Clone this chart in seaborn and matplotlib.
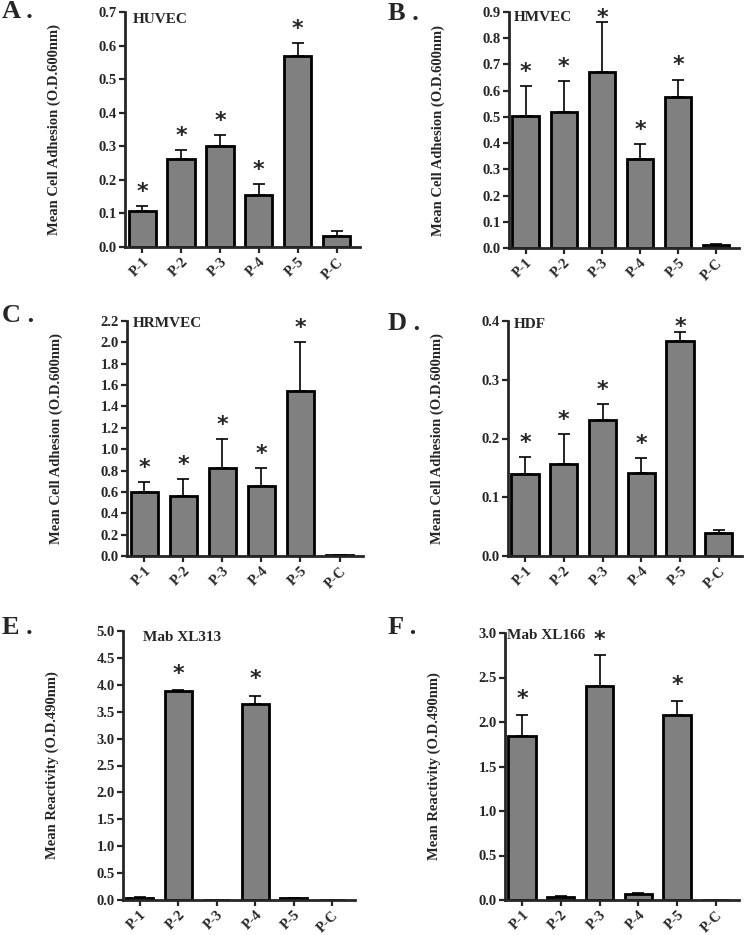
import numpy as np
import pandas as pd
import matplotlib
matplotlib.use('Agg')
import matplotlib.pyplot as plt
import seaborn as sns

sns.set_style('ticks')
plt.rcParams['font.family'] = ['Liberation Serif', 'DejaVu Serif']
plt.rcParams['font.weight'] = 'bold'

peptides = ['P-1', 'P-2', 'P-3', 'P-4', 'P-5', 'P-C']

# mean values and upper error (SD)
huvec_mean = [0.107, 0.262, 0.302, 0.156, 0.568, 0.033]
huvec_err = [0.015, 0.028, 0.031, 0.032, 0.039, 0.014]
hmvec_mean = [0.504, 0.519, 0.673, 0.338, 0.574, 0.010]
hmvec_err = [0.112, 0.119, 0.189, 0.057, 0.068, 0.004]
hrmvec_mean = [0.599, 0.558, 0.824, 0.655, 1.548, 0.005]
hrmvec_err = [0.097, 0.160, 0.268, 0.166, 0.455, 0.0]
hdf_mean = [0.140, 0.156, 0.231, 0.142, 0.366, 0.039]
hdf_err = [0.029, 0.052, 0.028, 0.024, 0.015, 0.006]
xl313_mean = [0.04, 3.88, 0.0, 3.64, 0.03, 0.0]
xl313_err = [0.02, 0.02, 0.0, 0.16, 0.01, 0.0]
xl166_mean = [1.847, 0.037, 2.403, 0.067, 2.082, 0.005]
xl166_err = [0.231, 0.01, 0.351, 0.012, 0.157, 0.0]

huvec_star = [1, 1, 1, 1, 1, 0]
hmvec_star = [1, 1, 1, 1, 1, 0]
hrmvec_star = [1, 1, 1, 1, 1, 0]
hdf_star = [1, 1, 1, 1, 1, 0]
xl313_star = [0, 1, 0, 1, 0, 0]
xl166_star = [1, 0, 1, 0, 1, 0]

adh_label = 'Mean Cell Adhesion (O.D.600nm)'
rea_label = 'Mean Reactivity (O.D.490nm)'

panels = [
    ('A', 'HUVEC', huvec_mean, huvec_err, huvec_star, 0.7, 0.1, adh_label),
    ('B', 'HMVEC', hmvec_mean, hmvec_err, hmvec_star, 0.9, 0.1, adh_label),
    ('C', 'HRMVEC', hrmvec_mean, hrmvec_err, hrmvec_star, 2.2, 0.2, adh_label),
    ('D', 'HDF', hdf_mean, hdf_err, hdf_star, 0.4, 0.1, adh_label),
    ('E', 'Mab XL313', xl313_mean, xl313_err, xl313_star, 5.0, 0.5, rea_label),
    ('F', 'Mab XL166', xl166_mean, xl166_err, xl166_star, 3.0, 0.5, rea_label),
]

# axes boxes in pixels: left, right, top, bottom
boxes = [(125, 360, 12, 247), (509, 739, 12, 248),
         (127, 363, 321, 556), (508, 742, 321, 556),
         (123, 355, 631, 900), (505, 739, 633, 900)]
letter_pos = [(2, 12), (388, 14), (2, 316), (388, 323), (2, 627), (388, 627)]
title_x = [0.033, 0.022, 0.025, 0.026, 0.086, 0.01]
title_y = [0.97, 0.977, 0.99, 0.983, 0.974, 0.99]

W, H = 745, 935
fig = plt.figure(figsize=(W / 100, H / 100), dpi=100)

for k, (let, name, mean, err, star, ymax, step, ylab) in enumerate(panels):
    l, r, t, b = boxes[k]
    ax = fig.add_axes([l / W, 1 - b / H, (r - l) / W, (b - t) / H])
    df = pd.DataFrame({'peptide': peptides, 'value': mean})
    sns.barplot(data=df, x='peptide', y='value', color='#808080', saturation=1,
                edgecolor='black', linewidth=2.0, width=0.7, errorbar=None, ax=ax)
    xs = np.arange(len(peptides))
    ax.errorbar(xs, mean, yerr=[np.zeros(len(err)), err], fmt='none',
                ecolor='black', elinewidth=1.2, capsize=4.5, capthick=1.2, zorder=1)
    for i in xs:
        if star[i]:
            sy = min(mean[i] + err[i] + ymax * 0.06, ymax * 0.975)
            ax.text(i, sy, '*', ha='center', va='center',
                    fontsize=16, fontweight='bold', family='DejaVu Sans')
    ax.set_ylim(0, ymax)
    ax.set_xlim(-0.44, 5.6)
    ax.set_yticks(np.arange(0, ymax + step / 2, step))
    ax.yaxis.set_major_formatter(matplotlib.ticker.FormatStrFormatter('%.1f'))
    ax.set_xlabel('')
    ax.set_ylabel(ylab, fontsize=10.5, fontweight='bold')
    ax.yaxis.set_label_coords(-64 / (r - l), 0.5)
    sns.despine(ax=ax)
    for s in ['left', 'bottom']:
        ax.spines[s].set_linewidth(2.0)
    ax.tick_params(axis='both', width=1.6, length=4, labelsize=10.5, direction='out', pad=2)
    for lab in ax.get_xticklabels():
        lab.set_rotation(45)
        lab.set_ha('right')
        lab.set_rotation_mode('anchor')
        lab.set_fontweight('bold')
    for lab in ax.get_yticklabels():
        lab.set_fontweight('bold')
    ax.text(title_x[k], title_y[k], name, transform=ax.transAxes, ha='left', va='center',
            fontsize=11, fontweight='bold')
    lx, ly = letter_pos[k]
    fig.text(lx / W, 1 - ly / H, let + ' .', ha='left', va='center', fontsize=19,
             fontweight='bold')

fig.savefig('out.png', dpi=100)
